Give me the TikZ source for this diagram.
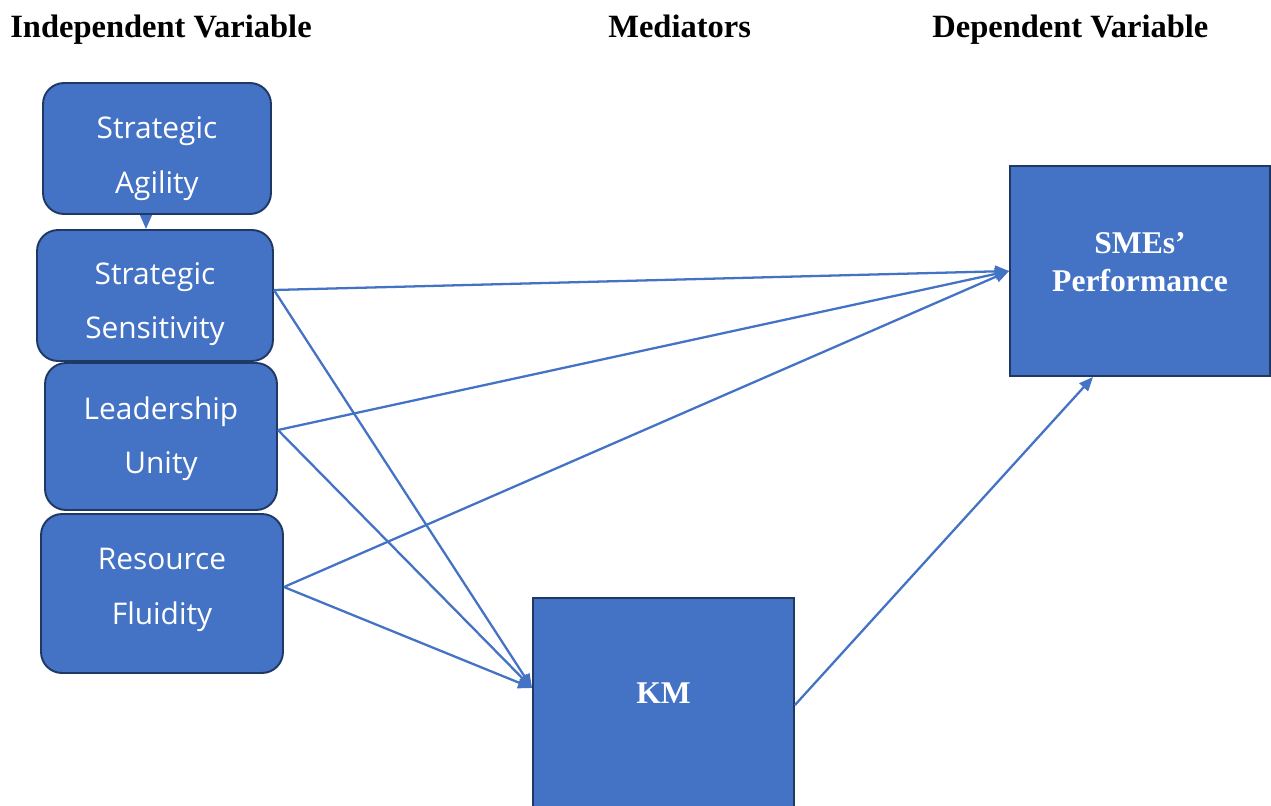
\documentclass[tikz,border=0pt]{standalone}
\usepackage{fontspec}
\setmainfont{Liberation Serif}
\newfontfamily\boxfont{Open Sans}
\definecolor{BoxBlue}{RGB}{68,114,196}
\definecolor{BoxEdge}{RGB}{31,56,100}
\usetikzlibrary{positioning, arrows.meta}

% two lines of box text, moved up or down by #1 without changing the box
\newcommand{\boxlines}[3]{\raisebox{#1}[\height][\depth]{\begin{tabular}{@{}c@{}}#2\\#3\end{tabular}}}

\tikzset{
  varbox/.style={draw=BoxEdge, line width=1.1pt, fill=BoxBlue, rounded corners=0.42cm,
    text=white, align=center, inner sep=0pt, font=\boxfont\fontsize{17}{31}\selectfont},
  sqbox/.style={draw=BoxEdge, line width=1.1pt, fill=BoxBlue, text=white, align=center,
    inner sep=0pt, font=\bfseries\fontsize{18}{21.5}\selectfont},
  head/.style={anchor=base west, inner sep=0pt, font=\bfseries\fontsize{18.5}{21}\selectfont},
  link/.style={BoxBlue, line width=1.3pt, -{Triangle[length=0.28cm,width=0.23cm]}}
}

\begin{document}
\begin{tikzpicture}[x=0.02cm, y=-0.02cm]
  \useasboundingbox (0,0) rectangle (1271,805);

  % column headings
  \node[head] (hind) at (10,37) {Independent Variable};
  \node[head] (hmed) at (608,37) {Mediators};
  \node[head] (hdep) at (932,37) {Dependent Variable};

  % independent variables
  \node[varbox, minimum width=4.56cm, minimum height=2.62cm] (SA) at (157,148.5) {\boxlines{-0.13cm}{Strategic}{Agility}};
  \node[varbox, minimum width=4.72cm, minimum height=2.62cm] (SS) at (155,295.5) {\boxlines{-0.1cm}{Strategic}{Sensitivity}};
  \node[varbox, minimum width=4.64cm, minimum height=2.94cm] (LU) at (161,436.5) {\boxlines{0.02cm}{Leadership}{Unity}};
  \node[varbox, minimum width=4.84cm, minimum height=3.18cm] (RF) at (162,593.5) {\boxlines{0.15cm}{Resource}{Fluidity}};

  % mediator and outcome
  \node[sqbox, minimum width=5.22cm, minimum height=4.28cm, text height=0.3cm, text depth=0.38cm] (KM) at (663.5,705) {KM};
  \node[sqbox, minimum width=5.2cm, minimum height=4.2cm] (SMEs) at (1140,271) {\boxlines{0.12cm}{SMEs'}{Performance}};

  % paths
  \draw[link] ([xshift=-0.22cm]SA.south) -- ([xshift=-0.18cm]SS.north);
  \draw[link] ([yshift=0.11cm]SS.east) -- (SMEs.west);
  \draw[link] ([yshift=0.11cm]SS.east) -- ([yshift=0.34cm]KM.west);
  \draw[link] ([yshift=0.13cm]LU.east) -- (SMEs.west);
  \draw[link] ([yshift=0.13cm]LU.east) -- ([yshift=0.34cm]KM.west);
  \draw[link] ([yshift=0.13cm]RF.east) -- (SMEs.west);
  \draw[link] ([yshift=0.13cm]RF.east) -- ([yshift=0.34cm]KM.west);
  \draw[link] (KM.east) -- ([xshift=-0.94cm]SMEs.south);
\end{tikzpicture}
\end{document}
